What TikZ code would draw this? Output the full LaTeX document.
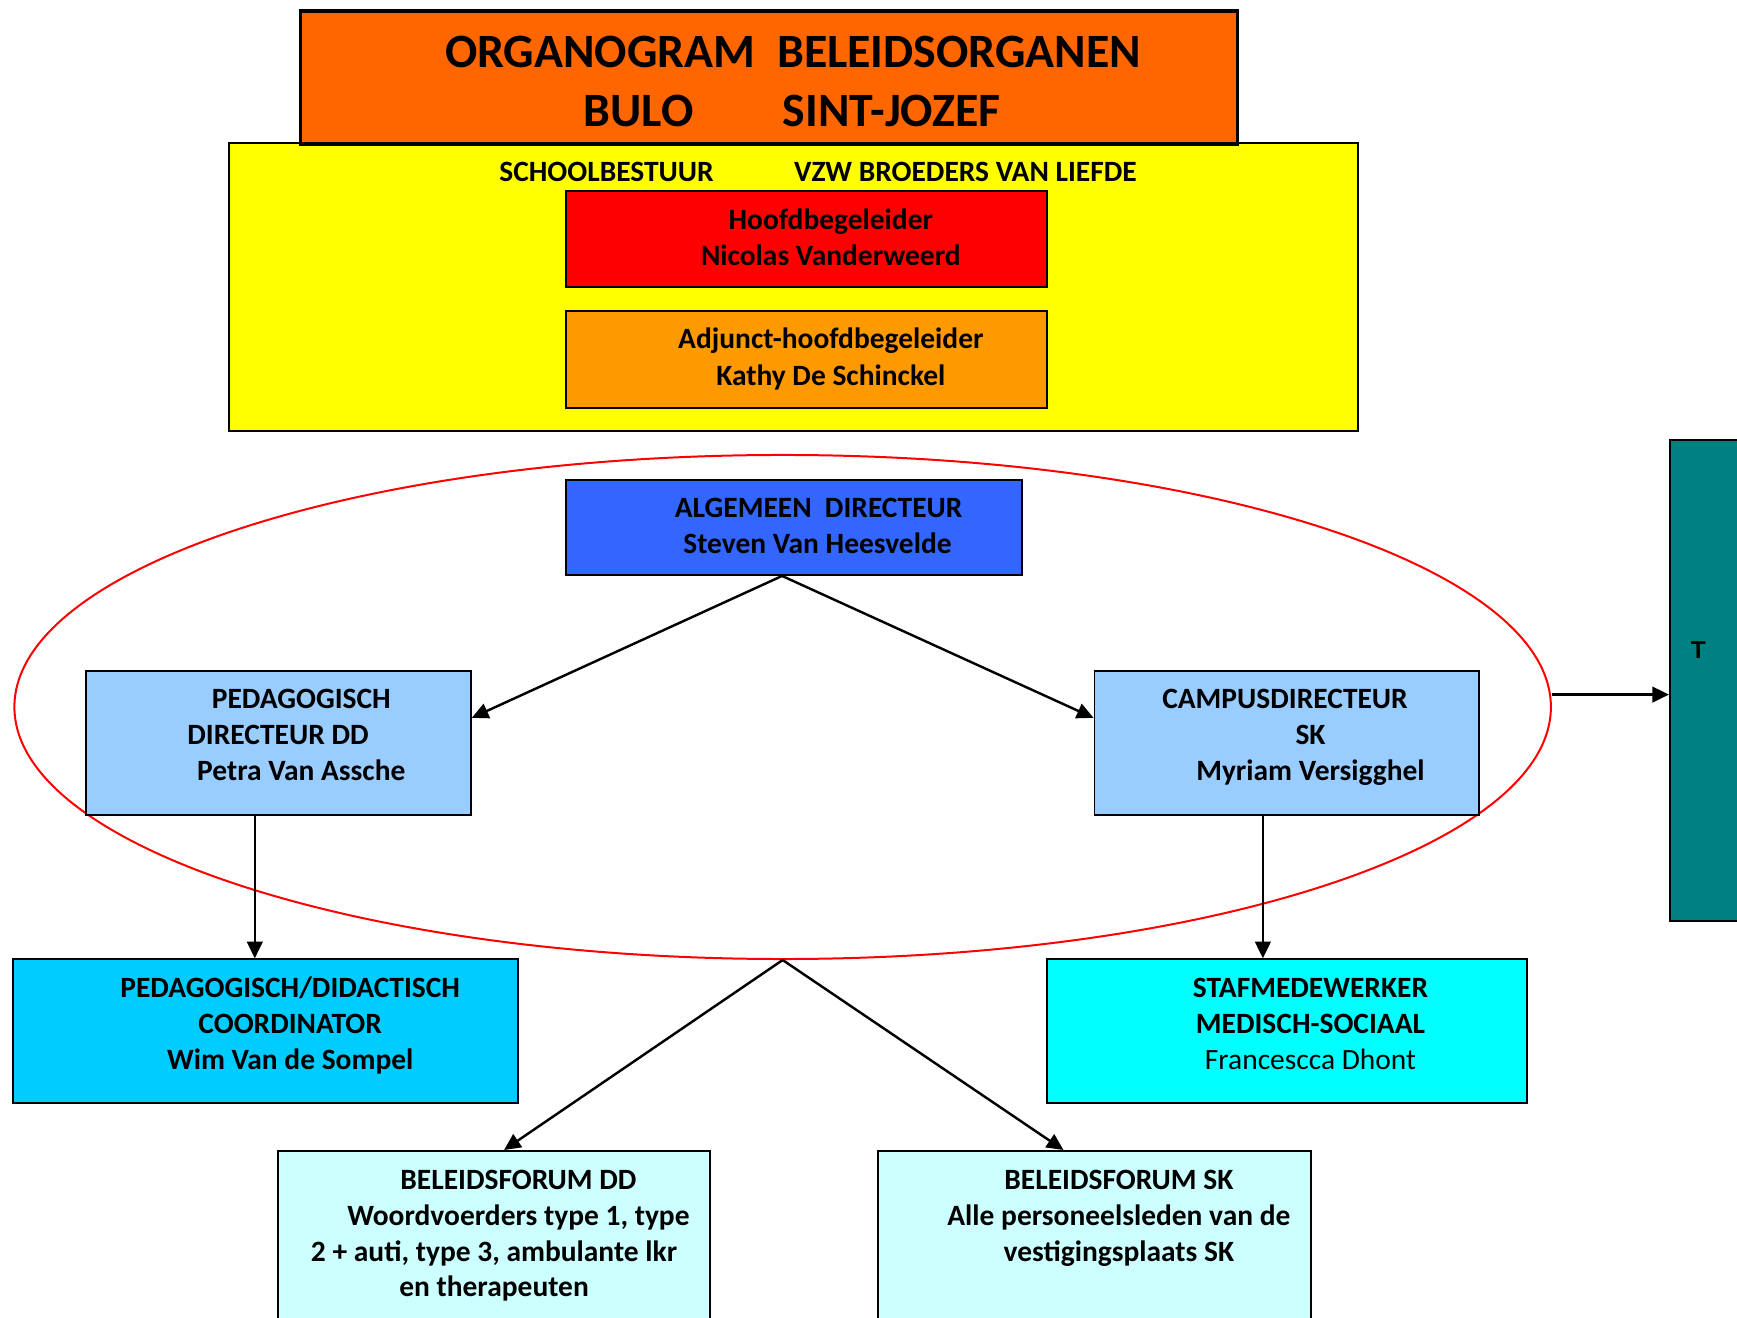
\documentclass[tikz,border=0pt]{standalone}
\usepackage{fontspec}
\setmainfont{Carlito}
\newfontfamily\arialfont{Liberation Sans}
\usetikzlibrary{shapes.geometric,arrows.meta}
\definecolor{cTitle}{HTML}{FF6600}
\definecolor{cYellow}{HTML}{FFFF00}
\definecolor{cRed}{HTML}{FF0000}
\definecolor{cOrange}{HTML}{FF9900}
\definecolor{cBlue}{HTML}{3366FF}
\definecolor{cLightBlue}{HTML}{99CCFF}
\definecolor{cTeal}{HTML}{008080}
\definecolor{cSky}{HTML}{00CCFF}
\definecolor{cCyan}{HTML}{00FFFF}
\definecolor{cPale}{HTML}{CCFFFF}
\tikzset{
  box/.style={draw=black, line width=0.9pt, inner sep=0pt, rectangle},
  lbl/.style={inner sep=0pt, anchor=base, font=\bfseries\fontsize{13.3}{15}\selectfont},
  lblr/.style={inner sep=0pt, anchor=base, font=\fontsize{13.3}{15}\selectfont},
  ttl/.style={inner sep=0pt, anchor=base, font=\bfseries\fontsize{21.6}{26}\selectfont},
  conn/.style={line width=1.1pt, -{Triangle[length=7.5pt,width=7pt]}},
}
\begin{document}
\begin{tikzpicture}[x=0.5pt,y=-0.5pt]
\useasboundingbox (0,0) rectangle (1568,1189);
\clip (0,0) rectangle (1568,1189);
\fill[white] (0,0) rectangle (1568,1189);

% red ellipse (behind boxes)
\node[ellipse, draw=red, line width=0.9pt, inner sep=0pt, minimum width=693.5pt, minimum height=227.5pt] (ell) at (706.5,638.2) {};

% top part
\node[box, fill=cYellow, minimum width=509.5pt, minimum height=130pt] (bestuur) at (716.5,259) {};
\node[box, fill=cTitle, line width=1.5pt, minimum width=423pt, minimum height=60pt] (title) at (694,70) {};
\node[box, fill=cRed, minimum width=217pt, minimum height=43.5pt] (hoofd) at (728,215.5) {};
\node[box, fill=cOrange, minimum width=217pt, minimum height=43.5pt] (adjunct) at (728,324.5) {};

% directors
\node[box, fill=cBlue, minimum width=206pt, minimum height=43pt] (alg) at (717,476) {};
\node[box, fill=cLightBlue, minimum width=173.5pt, minimum height=65pt] (ped) at (251.5,671) {};
\node[box, fill=cLightBlue, minimum width=173.5pt, minimum height=65pt] (campus) at (1161.5,671) {};
\node[box, fill=cTeal, minimum width=60pt, minimum height=217pt] (T) at (1567.5,614) {};

% lower boxes
\node[box, fill=cSky, minimum width=228pt, minimum height=65pt] (peddid) at (240,931) {};
\node[box, fill=cCyan, minimum width=216.5pt, minimum height=65pt] (staf) at (1161.5,931) {};
\node[box, fill=cPale, minimum width=195pt, minimum height=110pt] (bfdd) at (446,1149) {};
\node[box, fill=cPale, minimum width=195pt, minimum height=110pt] (bfsk) at (988,1149) {};

% texts
\node[ttl] (t1) at (716,61) {ORGANOGRAM\ \ BELEIDSORGANEN};
\node[ttl] (t2) at (576.5,114) {BULO};
\node[ttl] (t3) at (805,114) {SINT-JOZEF};
\node[lbl] (s1) at (547.5,164) {SCHOOLBESTUUR};
\node[lbl] (s2) at (871.5,164) {VZW BROEDERS VAN LIEFDE};
\node[lbl] (h1) at (750,207) {Hoofdbegeleider};
\node[lbl] (h2) at (750,240) {Nicolas Vanderweerd};
\node[lbl] (a1) at (750,315) {Adjunct-hoofdbegeleider};
\node[lbl] (a2) at (750,348) {Kathy De Schinckel};
\node[lbl] (g1) at (739,467) {ALGEMEEN\ \ DIRECTEUR};
\node[lbl] (g2) at (738,500) {Steven Van Heesvelde};
\node[lbl] (p1) at (272,640) {PEDAGOGISCH};
\node[lbl] (p2) at (251,672) {DIRECTEUR DD};
\node[lbl] (p3) at (272,705) {Petra Van Assche};
\node[lbl] (c1) at (1160,640) {CAMPUSDIRECTEUR};
\node[lbl] (c2) at (1183,672) {SK};
\node[lbl] (c3) at (1183,705) {Myriam Versigghel};
\node[inner sep=0pt, anchor=base, font=\arialfont\bfseries\fontsize{11}{13}\selectfont] (tl) at (1533,594) {T};
\node[lbl] (d1) at (262,900) {PEDAGOGISCH/DIDACTISCH};
\node[lbl] (d2) at (262,933) {COORDINATOR};
\node[lbl] (d3) at (262,965) {Wim Van de Sompel};
\node[lbl] (m1) at (1183,900) {STAFMEDEWERKER};
\node[lbl] (m2) at (1183,933) {MEDISCH-SOCIAAL};
\node[lblr] (m3) at (1183,965) {Francescca Dhont};
\node[lbl] (f1) at (468,1074) {BELEIDSFORUM DD};
\node[lbl] (f2) at (468,1106) {Woordvoerders type 1, type};
\node[lbl] (f3) at (446,1139) {2 + auti, type 3, ambulante lkr};
\node[lbl] (f4) at (446,1170) {en therapeuten};
\node[lbl] (k1) at (1010,1074) {BELEIDSFORUM SK};
\node[lbl] (k2) at (1010,1106) {Alle personeelsleden van de};
\node[lbl] (k3) at (1010,1139) {vestigingsplaats SK};

% connectors
\draw[conn] ([xshift=-5.5pt]alg.south) -- ([yshift=11.5pt]ped.east);
\draw[conn] ([xshift=-5.5pt]alg.south) -- ([yshift=11.5pt]campus.west);
\draw[conn] ([xshift=-10.75pt]ped.south) -- ([xshift=-10.75pt]ped.south |- peddid.north);
\draw[conn] ([xshift=-10.75pt]campus.south) -- ([xshift=-10.75pt]campus.south |- staf.north);
\draw[conn] (ell.south) -- ([xshift=4.5pt]bfdd.north);
\draw[conn] (ell.south) -- ([xshift=-14pt]bfsk.north);
\draw[conn] ([yshift=5.6pt]ell.east) -- ([yshift=5.6pt]ell.east -| T.west);
\end{tikzpicture}
\end{document}
